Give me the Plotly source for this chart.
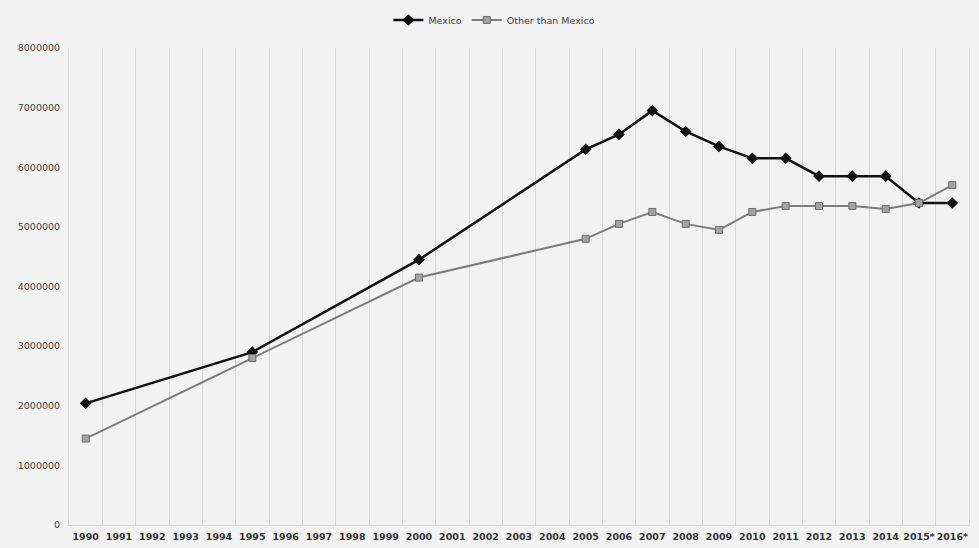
import plotly.graph_objects as go

# Year categories along the x axis (missing years are left empty and bridged)
years = ["1990", "1991", "1992", "1993", "1994", "1995", "1996", "1997", "1998",
         "1999", "2000", "2001", "2002", "2003", "2004", "2005", "2006", "2007",
         "2008", "2009", "2010", "2011", "2012", "2013", "2014", "2015*", "2016*"]

mexico = [2040000, None, None, None, None, 2900000, None, None, None,
          None, 4450000, None, None, None, None, 6300000, 6550000, 6950000,
          6600000, 6350000, 6150000, 6150000, 5850000, 5850000, 5850000, 5400000, 5400000]

other_than_mexico = [1450000, None, None, None, None, 2800000, None, None, None,
                     None, 4150000, None, None, None, None, 4800000, 5050000, 5250000,
                     5050000, 4950000, 5250000, 5350000, 5350000, 5350000, 5300000, 5400000, 5700000]

y_ticks = [0, 1000000, 2000000, 3000000, 4000000, 5000000, 6000000, 7000000, 8000000]

fig = go.Figure()

fig.add_trace(go.Scatter(
    x=years, y=mexico, name="Mexico", mode="lines+markers", connectgaps=True,
    line=dict(color="#111111", width=2.5),
    marker=dict(symbol="diamond", size=9, color="#111111"),
))

fig.add_trace(go.Scatter(
    x=years, y=other_than_mexico, name="Other than Mexico", mode="lines+markers",
    connectgaps=True,
    line=dict(color="#7c7c7c", width=2),
    marker=dict(symbol="square", size=7, color="#a3a3a3",
                line=dict(color="#6e6e6e", width=1)),
))

fig.update_layout(
    width=979, height=548,
    margin=dict(l=69, r=10, t=48, b=23),
    paper_bgcolor="#f2f2f2",
    plot_bgcolor="#f2f2f2",
    font=dict(family="DejaVu Sans", color="#404040"),
    showlegend=True,
    legend=dict(
        orientation="h", xref="container", yref="container",
        x=0.505, y=0.99, xanchor="center", yanchor="top",
        font=dict(size=9.5, color="#404040"),
        bgcolor="rgba(0,0,0,0)", itemwidth=30,
    ),
)

fig.update_xaxes(
    type="category", categoryorder="array", categoryarray=years,
    range=[-0.5, 26.5], automargin=False,
    tickson="boundaries", ticks="", tickangle=0,
    showgrid=True, gridcolor="#d6d6d6", gridwidth=1,
    showline=True, linecolor="#d6d6d6", linewidth=1,
    tickfont=dict(family="DejaVu Sans", size=9.5, color="#333333", weight="bold"),
    ticklabelstandoff=3,
)

fig.update_yaxes(
    range=[0, 8000000], tickvals=y_ticks, automargin=False,
    ticktext=[str(v) for v in y_ticks],
    showgrid=False, zeroline=False,
    showline=True, linecolor="#d6d6d6", linewidth=1, mirror=True,
    ticks="",
    tickfont=dict(family="DejaVu Sans", size=9.5, color="#404040"),
    ticklabelstandoff=6,
)

fig.write_html("out.html")
